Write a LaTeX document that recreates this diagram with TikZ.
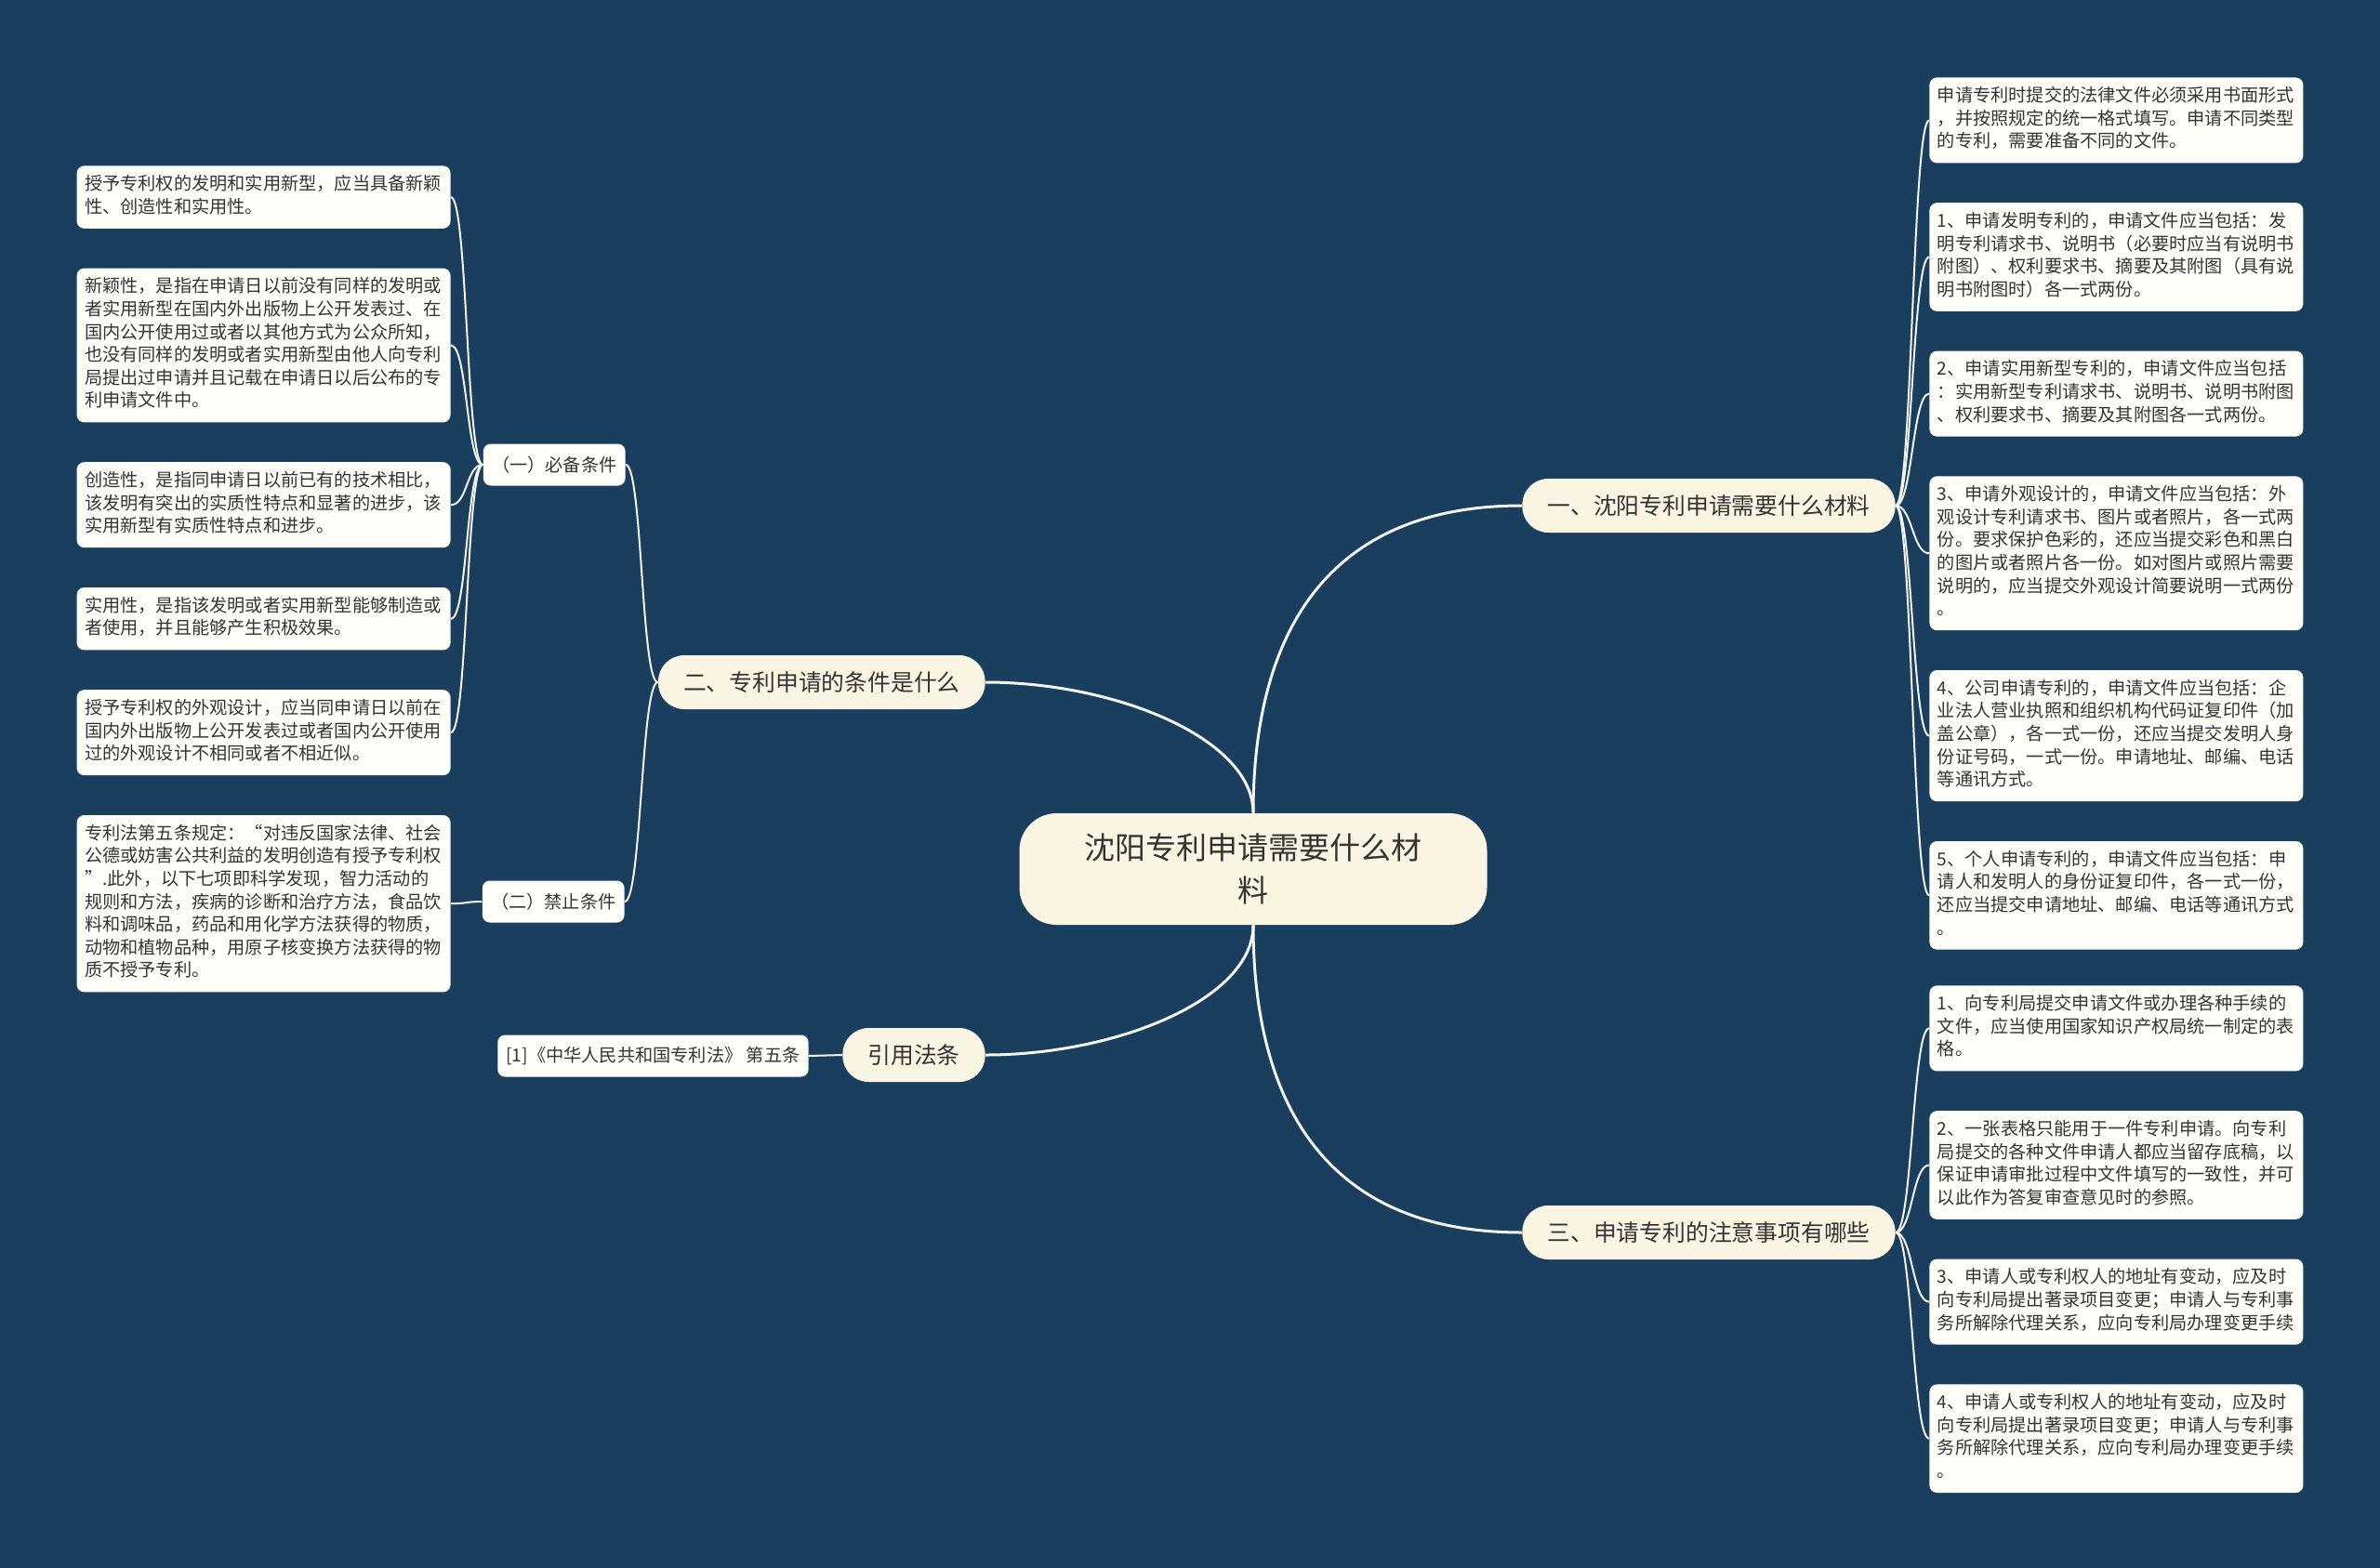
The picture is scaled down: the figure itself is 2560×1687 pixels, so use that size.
\documentclass[tikz,border=0pt]{standalone}
\usepackage{fontspec}
\setmainfont{Noto Sans CJK SC}
\usetikzlibrary{positioning}

\definecolor{bgnavy}{HTML}{1A3E5E}
\definecolor{cream}{HTML}{FAF5E3}
\definecolor{paper}{HTML}{FFFFFA}
\definecolor{ink}{HTML}{333333}
\definecolor{wire}{HTML}{F4F4EC}

\begin{document}
\begin{tikzpicture}[
  x=0.5pt, y=-0.5pt,
  node distance = 21pt,
  rootnode/.style = {fill=cream, rounded corners=20pt, minimum width=251.5pt, minimum height=60pt, align=center, text=ink, font=\fontsize{16.5pt}{23pt}\selectfont},
  branchnode/.style = {fill=cream, rounded corners=14pt, minimum height=29pt, inner xsep=13.5pt, text=ink, font=\fontsize{12.4pt}{15pt}\selectfont},
  subnode/.style = {fill=paper, rounded corners=4pt, minimum height=22.5pt, inner xsep=4.6pt, text=ink, font=\fontsize{9.6pt}{12.3pt}\selectfont},
  leafnode/.style = {fill=paper, rounded corners=4pt, text width=192.5pt, inner xsep=4.25pt, inner ysep=4.55pt, align=left, text=ink, font=\fontsize{9.6pt}{12.3pt}\selectfont, execute at begin node=\strut, execute at end node=\strut},
  mainlink/.style = {draw=wire, line width=1.5pt},
  leaflink/.style = {draw=wire, line width=1pt, out distance=9pt, in distance=9pt}
]
\useasboundingbox (0,0) rectangle (2560,1687);
\fill[bgnavy] (0,0) rectangle (2560,1687);

\node[rootnode] (root) at (1348,935) {沈阳专利申请需要什么材\\料};
\node[branchnode, anchor=west] (mat) at (1637,544) {一、沈阳专利申请需要什么材料};
\node[branchnode, anchor=east] (cond) at (1060,734) {二、专利申请的条件是什么};
\node[branchnode, anchor=east] (law) at (1060,1135) {引用法条};
\node[branchnode, anchor=west] (note) at (1637,1326) {三、申请专利的注意事项有哪些};

\node[subnode, anchor=east] (must) at (673,500) {（一）必备条件};
\node[subnode, anchor=east] (ban) at (672,970) {（二）禁止条件};
\node[subnode, anchor=east] (cite) at (870,1136) {[1]《中华人民共和国专利法》 第五条};

\node[leafnode, anchor=north east] (l1) at (485,178) {授予专利权的发明和实用新型，应当具备新颖\\性、创造性和实用性。};
\node[leafnode, below=of l1] (l2) {新颖性，是指在申请日以前没有同样的发明或\\者实用新型在国内外出版物上公开发表过、在\\国内公开使用过或者以其他方式为公众所知，\\也没有同样的发明或者实用新型由他人向专利\\局提出过申请并且记载在申请日以后公布的专\\利申请文件中。};
\node[leafnode, below=of l2] (l3) {创造性，是指同申请日以前已有的技术相比，\\该发明有突出的实质性特点和显著的进步，该\\实用新型有实质性特点和进步。};
\node[leafnode, below=of l3] (l4) {实用性，是指该发明或者实用新型能够制造或\\者使用，并且能够产生积极效果。};
\node[leafnode, below=of l4] (l5) {授予专利权的外观设计，应当同申请日以前在\\国内外出版物上公开发表过或者国内公开使用\\过的外观设计不相同或者不相近似。};
\node[leafnode, below=of l5] (l6) {专利法第五条规定：“对违反国家法律、社会\\公德或妨害公共利益的发明创造有授予专利权\\”.此外，以下七项即科学发现，智力活动的\\规则和方法，疾病的诊断和治疗方法，食品饮\\料和调味品，药品和用化学方法获得的物质，\\动物和植物品种，用原子核变换方法获得的物\\质不授予专利。};

\node[leafnode, anchor=north west] (r1) at (2075,83) {申请专利时提交的法律文件必须采用书面形式\\，并按照规定的统一格式填写。申请不同类型\\的专利，需要准备不同的文件。};
\node[leafnode, below=of r1] (r2) {1、申请发明专利的，申请文件应当包括：发\\明专利请求书、说明书（必要时应当有说明书\\附图）、权利要求书、摘要及其附图（具有说\\明书附图时）各一式两份。};
\node[leafnode, below=of r2] (r3) {2、申请实用新型专利的，申请文件应当包括\\：实用新型专利请求书、说明书、说明书附图\\、权利要求书、摘要及其附图各一式两份。};
\node[leafnode, below=of r3] (r4) {3、申请外观设计的，申请文件应当包括：外\\观设计专利请求书、图片或者照片，各一式两\\份。要求保护色彩的，还应当提交彩色和黑白\\的图片或者照片各一份。如对图片或照片需要\\说明的，应当提交外观设计简要说明一式两份\\。};
\node[leafnode, below=of r4] (r5) {4、公司申请专利的，申请文件应当包括：企\\业法人营业执照和组织机构代码证复印件（加\\盖公章），各一式一份，还应当提交发明人身\\份证号码，一式一份。申请地址、邮编、电话\\等通讯方式。};
\node[leafnode, below=of r5] (r6) {5、个人申请专利的，申请文件应当包括：申\\请人和发明人的身份证复印件，各一式一份，\\还应当提交申请地址、邮编、电话等通讯方式\\。};

\node[leafnode, anchor=north west] (n1) at (2075,1060) {1、向专利局提交申请文件或办理各种手续的\\文件，应当使用国家知识产权局统一制定的表\\格。};
\node[leafnode, below=of n1] (n2) {2、一张表格只能用于一件专利申请。向专利\\局提交的各种文件申请人都应当留存底稿，以\\保证申请审批过程中文件填写的一致性，并可\\以此作为答复审查意见时的参照。};
\node[leafnode, below=of n2] (n3) {3、申请人或专利权人的地址有变动，应及时\\向专利局提出著录项目变更；申请人与专利事\\务所解除代理关系，应向专利局办理变更手续};
\node[leafnode, below=of n3] (n4) {4、申请人或专利权人的地址有变动，应及时\\向专利局提出著录项目变更；申请人与专利事\\务所解除代理关系，应向专利局办理变更手续\\。};

\draw[mainlink] (root.north) to[out=90, in=180, out distance=90pt, in distance=110pt] (mat.west);
\draw[mainlink] (root.north) to[out=90, in=0, out distance=40pt, in distance=70pt] (cond.east);
\draw[mainlink] (root.south) to[out=-90, in=0, out distance=40pt, in distance=70pt] (law.east);
\draw[mainlink] (root.south) to[out=-90, in=180, out distance=90pt, in distance=110pt] (note.west);

\draw[leaflink] (mat.east) to[out=0, in=180] (r1.west);
\draw[leaflink] (mat.east) to[out=0, in=180] (r2.west);
\draw[leaflink] (mat.east) to[out=0, in=180] (r3.west);
\draw[leaflink] (mat.east) to[out=0, in=180] (r4.west);
\draw[leaflink] (mat.east) to[out=0, in=180] (r5.west);
\draw[leaflink] (mat.east) to[out=0, in=180] (r6.west);
\draw[leaflink] (note.east) to[out=0, in=180] (n1.west);
\draw[leaflink] (note.east) to[out=0, in=180] (n2.west);
\draw[leaflink] (note.east) to[out=0, in=180] (n3.west);
\draw[leaflink] (note.east) to[out=0, in=180] (n4.west);
\draw[leaflink] (cond.west) to[out=180, in=0] (must.east);
\draw[leaflink] (cond.west) to[out=180, in=0] (ban.east);
\draw[leaflink] (must.west) to[out=180, in=0] (l1.east);
\draw[leaflink] (must.west) to[out=180, in=0] (l2.east);
\draw[leaflink] (must.west) to[out=180, in=0] (l3.east);
\draw[leaflink] (must.west) to[out=180, in=0] (l4.east);
\draw[leaflink] (must.west) to[out=180, in=0] (l5.east);
\draw[leaflink] (ban.west) to[out=180, in=0] (l6.east);
\draw[leaflink] (law.west) -- (cite.east);
\end{tikzpicture}
\end{document}
